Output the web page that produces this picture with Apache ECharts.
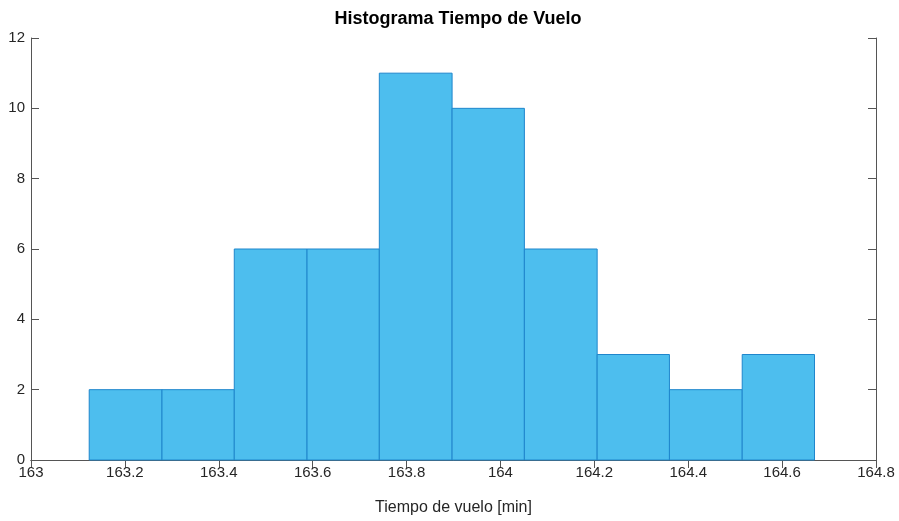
<!DOCTYPE html>
<html>
<head>
<meta charset="utf-8">
<script src="https://cdn.jsdelivr.net/npm/echarts@6/dist/echarts.min.js"></script>
<style>
html,body{margin:0;padding:0;background:#fff;}
#main{width:899px;height:521px;}
</style>
</head>
<body>
<div id="main"></div>
<script>
// Bin edges (min) and counts
var binEdges = [163.124, 163.279, 163.433, 163.588, 163.742, 163.897, 164.051, 164.206, 164.360, 164.515, 164.669];
var counts = [2, 2, 6, 6, 11, 10, 6, 3, 2, 3];
var xTicks = { min: 163, max: 164.8, interval: 0.2 };
var yTicks = { min: 0, max: 12, interval: 2 };

var data = [];
for (var i = 0; i < counts.length; i++) {
  data.push([binEdges[i], binEdges[i + 1], counts[i]]);
}

var axisColor = '#555555';
var font = '"Liberation Sans", Arial, Helvetica, sans-serif';

var chart = echarts.init(document.getElementById('main'));
chart.setOption({
  animation: false,
  backgroundColor: '#fff',
  title: {
    text: 'Histograma Tiempo de Vuelo',
    left: 453, top: 5,
    textAlign: 'center',
    textStyle: { fontFamily: font, fontSize: 18, fontWeight: 'bold', color: '#000' }
  },
  grid: { left: 31, right: 23, top: 38, bottom: 61, containLabel: false },
  xAxis: [{
    type: 'value', min: xTicks.min, max: xTicks.max, interval: xTicks.interval,
    position: 'bottom',
    name: 'Tiempo de vuelo [min]', nameLocation: 'middle', nameGap: 40,
    nameTextStyle: { fontFamily: font, fontSize: 16, color: '#262626' },
    axisLine: { show: true, lineStyle: { color: axisColor, width: 1 } },
    axisTick: { show: true, inside: true, length: 8, lineStyle: { color: axisColor } },
    axisLabel: { fontFamily: font, fontSize: 15, color: '#262626', margin: 5 },
    splitLine: { show: false }
  }, {
    type: 'value', min: xTicks.min, max: xTicks.max, interval: xTicks.interval,
    position: 'top',
    axisLine: { show: true, lineStyle: { color: axisColor, width: 1 } },
    axisTick: { show: true, inside: true, length: 8, lineStyle: { color: axisColor } },
    axisLabel: { show: false },
    splitLine: { show: false }
  }],
  yAxis: [{
    type: 'value', min: yTicks.min, max: yTicks.max, interval: yTicks.interval,
    position: 'left',
    axisLine: { show: true, lineStyle: { color: axisColor, width: 1 } },
    axisTick: { show: true, inside: true, length: 8, lineStyle: { color: axisColor } },
    axisLabel: { fontFamily: font, fontSize: 15, color: '#262626', margin: 6 },
    splitLine: { show: false }
  }, {
    type: 'value', min: yTicks.min, max: yTicks.max, interval: yTicks.interval,
    position: 'right',
    axisLine: { show: true, lineStyle: { color: axisColor, width: 1 } },
    axisTick: { show: true, inside: true, length: 8, lineStyle: { color: axisColor } },
    axisLabel: { show: false },
    splitLine: { show: false }
  }],
  series: [{
    type: 'custom',
    xAxisIndex: 0, yAxisIndex: 0,
    encode: { x: [0, 1], y: 2 },
    data: data,
    z: 1,
    renderItem: function (params, api) {
      var p0 = api.coord([api.value(0), api.value(2)]);
      var p1 = api.coord([api.value(1), 0]);
      return {
        type: 'rect',
        shape: { x: p0[0], y: p0[1], width: p1[0] - p0[0], height: p1[1] - p0[1] },
        style: { fill: '#4DBEEE', stroke: '#1f86cc', lineWidth: 1 }
      };
    }
  }]
});
</script>
</body>
</html>
